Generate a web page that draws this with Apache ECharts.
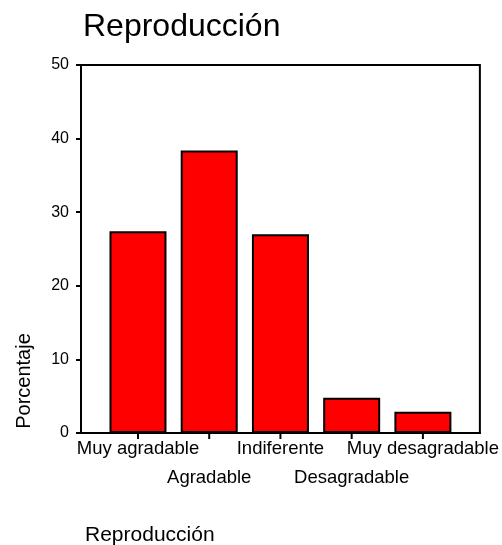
<!DOCTYPE html>
<html>
<head>
<meta charset="utf-8">
<script src="https://cdn.jsdelivr.net/npm/echarts@6.0.0/dist/echarts.min.js"></script>
<style>
  html, body { margin: 0; padding: 0; background: #fff; }
  #chart { width: 502px; height: 545px; }
</style>
</head>
<body>
<div id="chart"></div>
<script>
// Datos del gráfico
const categorias = ['Muy agradable', 'Agradable', 'Indiferente', 'Desagradable', 'Muy desagradable'];
const porcentajes = [27.4, 38.4, 27.0, 4.8, 2.9];
const posiciones = [0, 1, 2, 3, 4];
// etiquetas alternadas en dos filas
const filaArriba = [0, 2, 4];
const filaAbajo = [1, 3];

const fuente = "'Liberation Sans', Arial, sans-serif";

let chart = echarts.init(document.getElementById('chart'));

let etiquetaX = {
    showMinLabel: true,
    showMaxLabel: true,
    hideOverlap: false,
    fontFamily: fuente,
    fontSize: 18.5,
    color: '#000',
    formatter: v => categorias[Math.round(v)]
};

let option = {
    backgroundColor: '#fff',
    animation: false,
    title: [
        {
            text: 'Reproducción',
            left: 78,
            top: 6,
            textStyle: { fontFamily: fuente, fontSize: 32, fontWeight: 'normal', color: '#000' }
        },
        {
            text: 'Reproducción',
            left: 80,
            top: 520,
            textStyle: { fontFamily: fuente, fontSize: 21, fontWeight: 'normal', color: '#000' }
        }
    ],
    grid: {
        left: 81,
        right: 20,
        top: 65,
        bottom: 112,
        show: true,
        borderColor: '#000',
        borderWidth: 2,
        backgroundColor: 'transparent'
    },
    xAxis: [
        {
            type: 'value',
            min: -0.8,
            max: 4.8,
            axisLine: { show: true, onZero: false, lineStyle: { color: '#000', width: 2 } },
            axisTick: { show: false },
            axisLabel: Object.assign({ customValues: filaArriba, margin: 6 }, etiquetaX),
            splitLine: { show: false }
        },
        {
            type: 'value',
            position: 'bottom',
            min: -0.8,
            max: 4.8,
            axisLine: { show: false, onZero: false },
            axisTick: { show: false },
            axisLabel: Object.assign({ customValues: filaAbajo, margin: 35 }, etiquetaX),
            splitLine: { show: false }
        }
    ],
    yAxis: {
        type: 'value',
        min: 0,
        max: 50,
        interval: 10,
        axisLine: { show: true, onZero: false, lineStyle: { color: '#000', width: 2 } },
        axisTick: { show: true, length: 5, lineStyle: { color: '#000', width: 2 } },
        axisLabel: {
            margin: 12,
            fontFamily: fuente,
            fontSize: 16,
            color: '#000'
        },
        splitLine: { show: false }
    },
    graphic: [
        {
            type: 'text',
            x: 24,
            y: 381,
            rotation: Math.PI / 2,
            style: {
                text: 'Porcentaje',
                fontFamily: fuente,
                fontSize: 20,
                fill: '#000',
                align: 'center',
                verticalAlign: 'middle'
            }
        }
    ],
    series: [
        {
            type: 'bar',
            xAxisIndex: 0,
            barWidth: 57,
            data: posiciones.map((p, i) => [p, porcentajes[i]]),
            itemStyle: { color: '#ff0000', borderColor: '#000', borderWidth: 2 }
        },
        {
            // marcas de graduación del eje X bajo cada barra
            type: 'custom',
            xAxisIndex: 0,
            silent: true,
            clip: false,
            z: 5,
            data: posiciones.map(p => [p, 0]),
            renderItem: (params, api) => {
                let pt = api.coord([api.value(0), api.value(1)]);
                return {
                    type: 'line',
                    shape: { x1: pt[0], y1: pt[1], x2: pt[0], y2: pt[1] + 6 },
                    style: { stroke: '#000', lineWidth: 2 }
                };
            }
        }
    ]
};

chart.setOption(option);
</script>
</body>
</html>
